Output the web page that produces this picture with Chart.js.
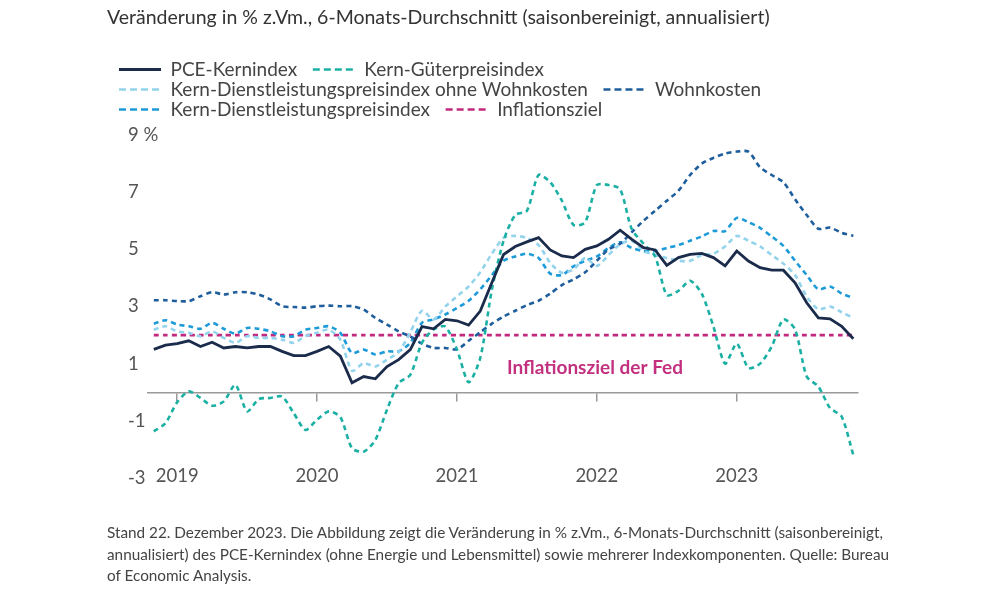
<!DOCTYPE html>
<html lang="de">
<head>
<meta charset="utf-8">
<title>PCE-Kernindex</title>
<script src="https://cdn.jsdelivr.net/npm/chart.js@4.4.1/dist/chart.umd.min.js"></script>
<style>
  html, body { margin: 0; padding: 0; background: #fff; }
  body { width: 1000px; height: 600px; position: relative; overflow: hidden; font-family: Lato, "Noto Sans", sans-serif; color: #333; }
  #wrap { position: absolute; left: 0; top: 0; width: 1000px; height: 600px; }
  #title { position: absolute; left: 107px; top: 5px; font-size: 19.5px; color: #333; white-space: nowrap; }
  #note { position: absolute; left: 107px; top: 522px; width: 820px; font-size: 15.3px; line-height: 21.5px; color: #444; white-space: nowrap; }
</style>
</head>
<body>
<div id="wrap"><canvas id="chart"></canvas></div>
<div id="title">Veränderung in % z.Vm., 6-Monats-Durchschnitt (saisonbereinigt, annualisiert)</div>
<div id="note">Stand 22. Dezember 2023. Die Abbildung zeigt die Veränderung in % z.Vm., 6-Monats-Durchschnitt (saisonbereinigt,<br>annualisiert) des PCE-Kernindex (ohne Energie und Lebensmittel) sowie mehrerer Indexkomponenten. Quelle: Bureau<br>of Economic Analysis.</div>
<script>
//months shown (Nov 2018 - Nov 2023)
const months = [
  '2018-11','2018-12',
  '2019-01','2019-02','2019-03','2019-04','2019-05','2019-06','2019-07','2019-08','2019-09','2019-10','2019-11','2019-12',
  '2020-01','2020-02','2020-03','2020-04','2020-05','2020-06','2020-07','2020-08','2020-09','2020-10','2020-11','2020-12',
  '2021-01','2021-02','2021-03','2021-04','2021-05','2021-06','2021-07','2021-08','2021-09','2021-10','2021-11','2021-12',
  '2022-01','2022-02','2022-03','2022-04','2022-05','2022-06','2022-07','2022-08','2022-09','2022-10','2022-11','2022-12',
  '2023-01','2023-02','2023-03','2023-04','2023-05','2023-06','2023-07','2023-08','2023-09','2023-10','2023-11'
];

//series values in %
const pceCore = [1.5,1.65,1.7,1.8,1.6,1.75,1.55,1.6,1.55,1.6,1.6,1.43,1.28,1.28,1.43,1.6,1.26,0.33,0.55,0.47,
  0.9,1.14,1.49,2.3,2.22,2.55,2.5,2.35,2.84,3.84,4.82,5.1,5.26,5.41,4.98,4.77,4.71,5.0,5.12,5.35,
  5.67,5.35,5.06,4.98,4.44,4.71,4.82,4.86,4.71,4.42,4.94,4.59,4.36,4.27,4.27,3.83,3.13,2.6,2.57,2.31,1.87];
const coreGoods = [-1.37,-1.08,-0.35,0.03,-0.2,-0.47,-0.32,0.26,-0.67,-0.24,-0.2,-0.15,-0.73,-1.32,-0.96,-0.67,-0.87,-1.96,-2.08,-1.67,
  -0.61,0.32,0.61,1.73,2.2,2.3,1.5,0.35,1.2,3.6,5.3,6.2,6.35,7.6,7.35,6.7,5.85,5.95,7.25,7.25,
  7.1,5.7,5.2,4.75,3.4,3.55,3.9,3.45,2.3,1.0,1.7,0.85,1.0,1.6,2.55,2.2,0.55,0.2,-0.55,-0.85,-2.2];
const servicesExHousing = [2.19,2.31,2.13,2.08,1.96,2.13,1.9,1.73,1.96,1.9,1.9,1.84,1.73,1.96,2.08,2.19,1.84,0.75,1.02,0.9,
  1.14,1.4,2.1,2.85,2.55,3.0,3.35,3.7,4.2,4.85,5.4,5.47,5.4,5.15,4.53,4.18,4.3,4.7,4.42,4.8,
  5.18,5.3,4.95,4.8,4.7,4.6,4.6,4.8,4.85,5.1,5.47,5.3,5.1,4.8,4.5,4.1,3.35,2.9,3.0,2.8,2.6];
const housing = [3.22,3.22,3.19,3.19,3.36,3.5,3.42,3.5,3.5,3.42,3.25,3.01,2.98,2.96,3.01,3.03,3.01,3.01,2.89,2.6,
  2.37,2.13,1.95,1.7,1.55,1.55,1.5,1.8,2.1,2.4,2.65,2.85,3.05,3.2,3.45,3.75,3.95,4.2,4.6,5.0,
  5.2,5.6,6.0,6.35,6.7,7.05,7.6,8.0,8.2,8.35,8.42,8.42,7.87,7.6,7.35,6.75,6.2,5.72,5.76,5.58,5.47];
const coreServices = [2.4,2.52,2.37,2.31,2.22,2.43,2.22,2.05,2.25,2.22,2.13,1.96,1.96,2.19,2.25,2.31,2.08,1.37,1.49,1.32,
  1.43,1.43,1.73,2.43,2.55,2.72,2.95,3.2,3.6,4.1,4.6,4.75,4.85,4.7,4.15,4.1,4.4,4.6,4.75,5.05,
  5.25,5.05,4.94,4.94,5.05,5.15,5.3,5.45,5.64,5.64,6.1,5.95,5.75,5.45,5.12,4.6,4.1,3.6,3.7,3.45,3.3];
const inflationTarget = [2,2,2,2,2,2,2,2,2,2,2,2,2,2,2,2,2,2,2,2,
  2,2,2,2,2,2,2,2,2,2,2,2,2,2,2,2,2,2,2,2,
  2,2,2,2,2,2,2,2,2,2,2,2,2,2,2,2,2,2,2,2,2];

//x ticks: January of each year
const yearTicks = ['2019-01','2020-01','2021-01','2022-01','2023-01'];
const yearLabels = ['2019','2020','2021','2022','2023'];
const yTicks = [-3,-1,1,3,5,7,9];

//x in months after jan 2019, y in %
const fedLabel = { text: 'Inflationsziel der Fed', x: 28.3, y: 0.86 };

const FONT = 'Lato, "Noto Sans", sans-serif';
const base = months.indexOf('2019-01');
const pos = m => months.indexOf(m) - base; //month offset to jan 2019

function series(values) {
  return values.map((v, i) => ({ x: i - base, y: v }));
}

function line(label, values, color, dashed) {
  return {
    label,
    data: series(values),
    borderColor: color,
    backgroundColor: color,
    borderWidth: dashed ? 2.6 : 2.8,
    borderDash: dashed ? [5, 4] : [],
    pointRadius: 0,
    tension: dashed ? 0.25 : 0,
    fill: false
  };
}

//legend samples: longer dashes and a bit more room after each label
function legendLabels(chart) {
  const items = Chart.defaults.plugins.legend.labels.generateLabels(chart);
  return items.map(item => ({
    ...item,
    text: item.text + '\u00A0\u00A0\u00A0',
    fillStyle: 'rgba(0,0,0,0)',
    lineDash: item.lineDash && item.lineDash.length ? [7, 4] : []
  }));
}

//extra space between legend and plot, y labels moved in a little
const layoutTweaks = {
  id: 'layoutTweaks',
  beforeInit(chart) {
    const fit = chart.legend.fit;
    chart.legend.fit = function () {
      fit.call(this);
      this.height += 6;
    };
  },
  afterLayout(chart) {
    chart.scales.y.left += 10;
    chart.scales.y.right += 16; //so "9 %" is not clipped
  }
};

//draws the "Inflationsziel der Fed" text
const fedLabelPlugin = {
  id: 'fedLabel',
  afterDatasetsDraw(chart) {
    const { ctx, scales: { x, y } } = chart;
    ctx.save();
    ctx.font = '700 19px ' + FONT;
    ctx.fillStyle = '#c2307f';
    ctx.textBaseline = 'middle';
    ctx.fillText(fedLabel.text, x.getPixelForValue(fedLabel.x), y.getPixelForValue(fedLabel.y));
    ctx.restore();
  }
};

new Chart(document.getElementById('chart'), {
  type: 'line',
  data: {
    datasets: [
      line('PCE-Kernindex', pceCore, '#1b2b4b', false),
      line('Kern-Güterpreisindex', coreGoods, '#1cb0a4', true),
      line('Kern-Dienstleistungspreisindex ohne Wohnkosten', servicesExHousing, '#93d3ec', true),
      line('Wohnkosten', housing, '#1f5e9c', true),
      line('Kern-Dienstleistungspreisindex', coreServices, '#1d9ad8', true),
      line('Inflationsziel', inflationTarget, '#c2287e', true)
    ]
  },
  options: {
    responsive: true,
    maintainAspectRatio: false,
    animation: false,
    layout: { padding: { left: 118, right: 142, top: 59, bottom: 122 } },
    plugins: {
      legend: {
        position: 'top',
        align: 'start',
        labels: {
          boxWidth: 42,
          boxHeight: 0,
          padding: 1,
          color: '#444',
          font: { family: FONT, size: 19 },
          generateLabels: legendLabels
        }
      },
      title: { display: false },
      tooltip: { enabled: false }
    },
    scales: {
      x: {
        type: 'linear',
        position: { y: 0 },
        min: -2.5,
        max: 58.4,
        afterBuildTicks: scale => { scale.ticks = yearTicks.map(m => ({ value: pos(m) })); },
        ticks: {
          color: '#555',
          font: { family: FONT, size: 18.5 },
          padding: 65,
          maxRotation: 0,
          callback: v => yearLabels[yearTicks.map(pos).indexOf(v)]
        },
        grid: { display: true, drawOnChartArea: false, drawTicks: true, tickLength: 8, color: '#9a9a9a', lineWidth: 1.5 },
        border: { display: true, color: '#9a9a9a', width: 1.5 }
      },
      y: {
        min: -3,
        max: 9,
        afterBuildTicks: scale => { scale.ticks = yTicks.map(v => ({ value: v })); },
        afterFit: scale => { scale.width = 30; },
        ticks: {
          color: '#555',
          font: { family: FONT, size: 18.5 },
          crossAlign: 'far',
          padding: 0,
          callback: v => v === 9 ? '9 %' : String(v)
        },
        grid: { display: false },
        border: { display: false }
      }
    }
  },
  plugins: [fedLabelPlugin, layoutTweaks]
});
</script>
</body>
</html>
